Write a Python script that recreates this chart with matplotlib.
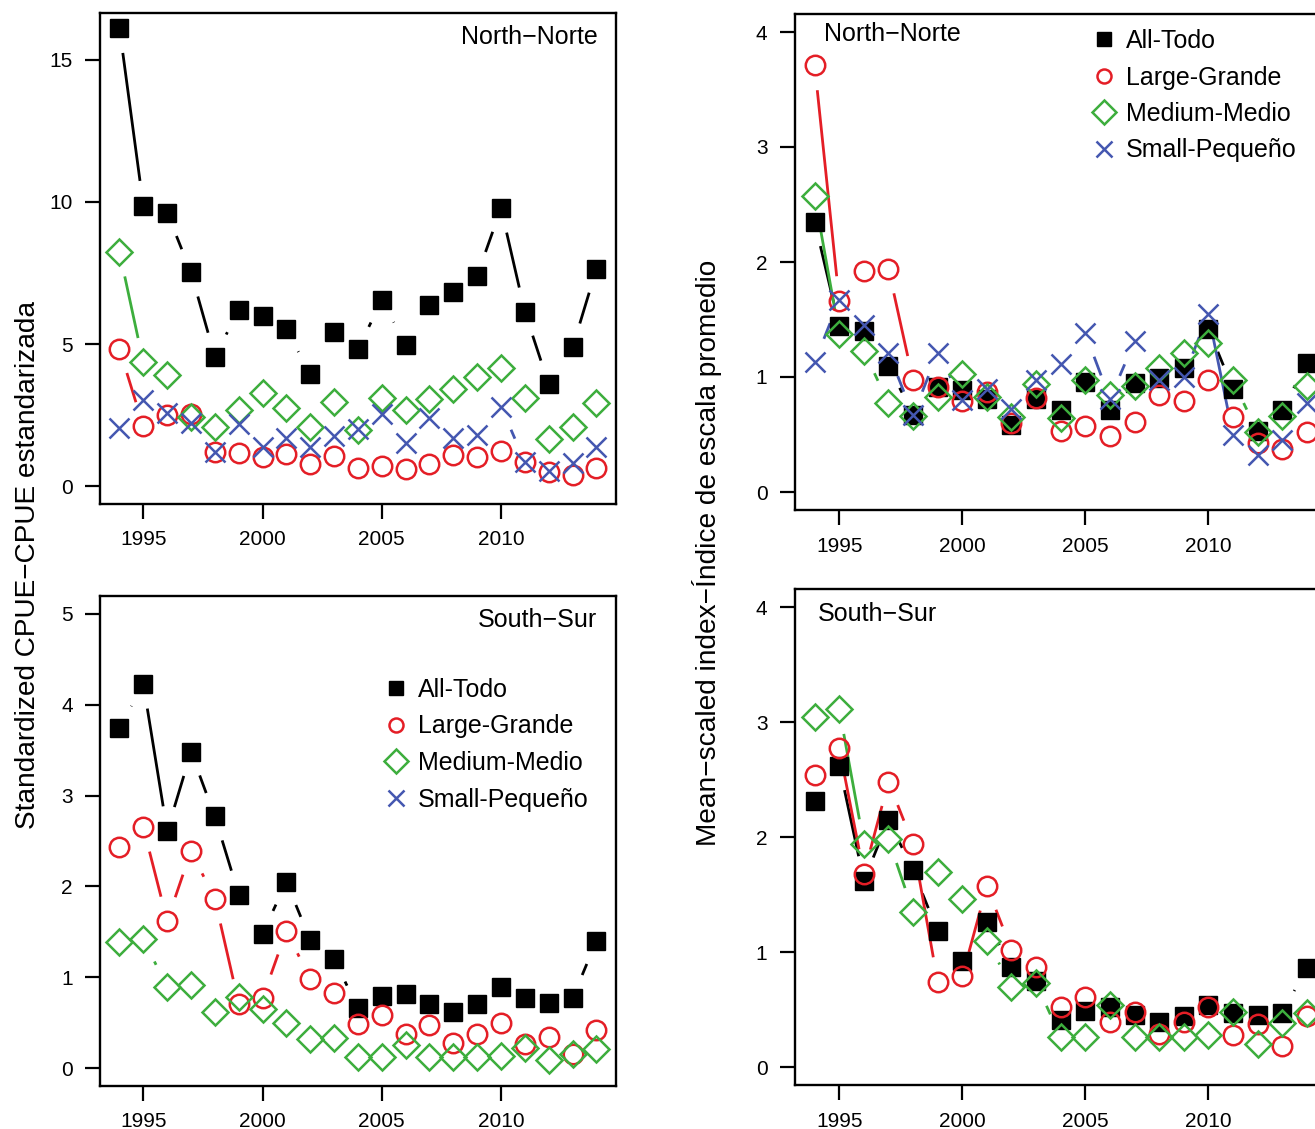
import numpy as np
import matplotlib
matplotlib.use("Agg")
import matplotlib.pyplot as plt
from matplotlib.lines import Line2D

plt.rcParams['font.family'] = ['Liberation Sans', 'DejaVu Sans']

years = list(range(1994, 2015))

# ---- Standardized CPUE, North ----
n_all = [16.12, 9.87, 9.62, 7.52, 4.55, 6.20, 5.99, 5.52, 3.94, 5.42, 4.81,
         6.55, 4.98, 6.37, 6.82, 7.41, 9.78, 6.13, 3.58, 4.88, 7.65]
n_large = [4.82, 2.11, 2.50, 2.54, 1.21, 1.15, 1.01, 1.12, 0.77, 1.06, 0.65,
           0.70, 0.60, 0.77, 1.09, 1.03, 1.23, 0.83, 0.50, 0.39, 0.65]
n_medium = [8.24, 4.35, 3.91, 2.44, 2.09, 2.68, 3.29, 2.74, 2.07, 2.97, 1.97,
            3.09, 2.68, 3.06, 3.42, 3.85, 4.17, 3.09, 1.65, 2.09, 2.91]
n_small = [2.03, 3.03, 2.58, 2.21, 1.21, 2.17, 1.38, 1.68, 1.36, 1.76, 2.01,
           2.52, 1.50, 2.38, 1.70, 1.80, 2.79, 0.86, 0.53, 0.82, 1.38]

# ---- Standardized CPUE, South ----
s_all = [3.74, 4.23, 2.61, 3.48, 2.77, 1.91, 1.48, 2.05, 1.41, 1.20, 0.66,
         0.79, 0.81, 0.71, 0.62, 0.71, 0.89, 0.77, 0.72, 0.77, 1.40]
s_large = [2.43, 2.65, 1.62, 2.39, 1.86, 0.71, 0.77, 1.51, 0.98, 0.83, 0.48,
           0.58, 0.37, 0.47, 0.28, 0.38, 0.50, 0.26, 0.34, 0.16, 0.42]
s_medium = [1.39, 1.42, 0.89, 0.91, 0.62, 0.78, 0.65, 0.50, 0.32, 0.33, 0.12,
            0.12, 0.25, 0.12, 0.12, 0.12, 0.13, 0.22, 0.09, 0.16, 0.21]

# ---- Mean-scaled index, North ----
mn_all = [2.35, 1.44, 1.40, 1.10, 0.67, 0.91, 0.89, 0.81, 0.58, 0.81, 0.71,
          0.96, 0.71, 0.95, 0.99, 1.08, 1.42, 0.90, 0.53, 0.71, 1.12]
mn_large = [3.71, 1.66, 1.92, 1.94, 0.97, 0.91, 0.79, 0.87, 0.60, 0.82, 0.53,
            0.57, 0.49, 0.61, 0.84, 0.79, 0.97, 0.65, 0.43, 0.37, 0.52]
mn_medium = [2.57, 1.37, 1.23, 0.77, 0.66, 0.83, 1.03, 0.83, 0.65, 0.94, 0.64,
             0.97, 0.84, 0.92, 1.08, 1.21, 1.30, 0.97, 0.52, 0.66, 0.92]
mn_small = [1.13, 1.67, 1.45, 1.21, 0.67, 1.21, 0.80, 0.90, 0.72, 0.97, 1.11,
            1.38, 0.81, 1.31, 0.97, 1.00, 1.55, 0.50, 0.32, 0.45, 0.77]

# ---- Mean-scaled index, South ----
ms_all = [2.31, 2.62, 1.62, 2.15, 1.71, 1.18, 0.92, 1.26, 0.87, 0.75, 0.41,
          0.49, 0.52, 0.45, 0.39, 0.44, 0.54, 0.47, 0.45, 0.47, 0.86]
ms_large = [2.54, 2.77, 1.68, 2.48, 1.94, 0.74, 0.79, 1.57, 1.02, 0.87, 0.52,
            0.61, 0.39, 0.48, 0.29, 0.39, 0.52, 0.28, 0.37, 0.18, 0.44]
ms_medium = [3.04, 3.11, 1.94, 1.98, 1.35, 1.70, 1.46, 1.10, 0.70, 0.73, 0.26,
             0.26, 0.54, 0.26, 0.26, 0.26, 0.28, 0.48, 0.20, 0.38, 0.47]

labels = ["All-Todo", "Large-Grande", "Medium-Medio", "Small-Pequeño"]
xticks = [1995, 2000, 2005, 2010]

RED = '#E41E26'
GREEN = '#3DAE3D'
BLUE = '#4457B0'
styles = [
    dict(marker='s', color='black', ms=13.5, mfc='black', mec='black', mew=1.0, lscale=0.7),
    dict(marker='o', color=RED, ms=14.0, mfc='none', mec=RED, mew=1.8, lscale=0.72),
    dict(marker='D', color=GREEN, ms=13.5, mfc='none', mec=GREEN, mew=1.8, lscale=0.88),
    dict(marker='x', color=BLUE, ms=15.0, mfc='none', mec=BLUE, mew=1.8, lscale=0.8),
]

W, H = 1315, 1129
DPI = 100
fig = plt.figure(figsize=(W / DPI, H / DPI), dpi=DPI)


def add_axes(left, right, top, bottom):
    return fig.add_axes([left / W, 1 - bottom / H, (right - left) / W, (bottom - top) / H])


def gapped(ax, x, y, color, gap=25, lw=2.0):
    pts = ax.transData.transform(np.column_stack([x, y]))
    inv = ax.transData.inverted()
    for i in range(len(pts) - 1):
        p0, p1 = pts[i], pts[i + 1]
        d = p1 - p0
        L = np.hypot(*d)
        if L <= 2 * gap:
            continue
        u = d / L
        seg = inv.transform(np.array([p0 + u * gap, p1 - u * gap]))
        ax.plot(seg[:, 0], seg[:, 1], color=color, lw=lw, solid_capstyle='butt', zorder=2)


def panel(ax, series, ylim, yticks):
    ax.set_xlim(1993.2, 2014.8)
    span = ylim[1] - ylim[0]
    ax.set_ylim(ylim[0] - 0.04 * span, ylim[1] + 0.04 * span)
    ax.set_xticks(xticks)
    ax.set_yticks(yticks)
    ax.tick_params(axis='both', length=10.8, width=1.6, labelsize=15, direction='out')
    ax.tick_params(axis='y', pad=9)
    ax.tick_params(axis='x', pad=8)
    for sp in ax.spines.values():
        sp.set_linewidth(1.7)
    for vals, st in zip(series, styles):
        gapped(ax, years, vals, st['color'])
    handles = []
    for vals, st, lab in zip(series, styles, labels):
        ax.plot(years, vals, linestyle='none', marker=st['marker'], ms=st['ms'],
                mfc=st['mfc'], mec=st['mec'], mew=st['mew'], zorder=3)
        handles.append(Line2D([], [], linestyle='none', marker=st['marker'], ms=st['ms'] * st['lscale'],
                              mfc=st['mfc'], mec=st['mec'], mew=st['mew'], label=lab))
    return handles


ax_tl = add_axes(100.4, 615.5, 13.4, 504.2)
ax_bl = add_axes(100.4, 615.5, 595.8, 1086.2)
ax_tr = add_axes(795.0, 1326.4, 13.6, 510.4)
ax_br = add_axes(795.0, 1326.4, 588.6, 1085.4)

panel(ax_tl, [n_all, n_large, n_medium, n_small], (0, 16), [0, 5, 10, 15])
panel(ax_bl, [s_all, s_large, s_medium], (0, 5), [0, 1, 2, 3, 4, 5])
h_full = panel(ax_tr, [mn_all, mn_large, mn_medium, mn_small], (0, 4), [0, 1, 2, 3, 4])
panel(ax_br, [ms_all, ms_large, ms_medium], (0, 4), [0, 1, 2, 3, 4])

ax_tl.text(0.966, 0.952, "North\u2212Norte", transform=ax_tl.transAxes, ha='right', va='center', fontsize=18)
ax_bl.text(0.964, 0.951, "South\u2212Sur", transform=ax_bl.transAxes, ha='right', va='center', fontsize=18)
ax_tr.text(0.0546, 0.959, "North\u2212Norte", transform=ax_tr.transAxes, ha='left', va='center', fontsize=18)
ax_br.text(0.043, 0.949, "South\u2212Sur", transform=ax_br.transAxes, ha='left', va='center', fontsize=18)


def put_legend(ax, x_px, y_px):
    return ax.legend(handles=h_full, loc='upper left',
                     bbox_to_anchor=(x_px / W, 1 - y_px / H), bbox_transform=fig.transFigure,
                     frameon=False, fontsize=18, handlelength=1.0, handletextpad=0.38,
                     labelspacing=0.5, borderpad=0, borderaxespad=0, numpoints=1)


put_legend(ax_bl, 383.5, 678)
put_legend(ax_tr, 1091.5, 29)

fig.text(28 / W, 1 - 565 / H, "Standardized CPUE\u2212CPUE estandarizada", rotation=90,
         ha='center', va='center', fontsize=20.2)
fig.text(707 / W, 1 - 553 / H, "Mean\u2212scaled index\u2212Índice de escala promedio", rotation=90,
         ha='center', va='center', fontsize=20.2)

fig.savefig("out.png", dpi=DPI)
